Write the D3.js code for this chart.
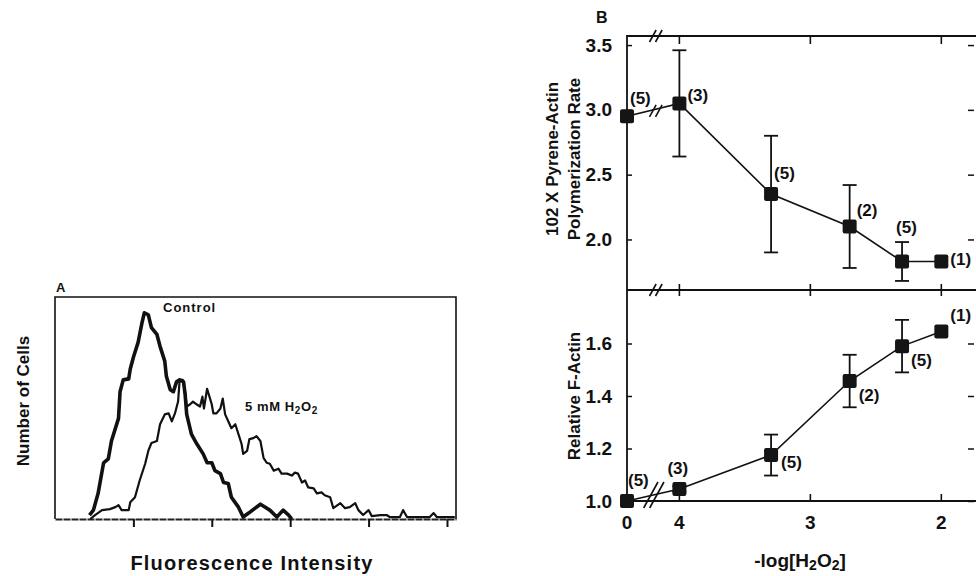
<!DOCTYPE html>
<html>
<head>
<meta charset="utf-8">
<script src="https://cdn.jsdelivr.net/npm/d3@7"></script>
<style>
  body { margin: 0; background: #fff; }
  svg { display: block; }
  text { font-family: "Liberation Sans", Arial, sans-serif; font-weight: bold; fill: #111; }
</style>
</head>
<body>
<div id="chart"></div>
<script>
// ---- Panel A: flow cytometry histograms (intensity, cell count) ----
const controlX = [0.44, 0.49, 0.55, 0.62, 0.68, 0.72, 0.81, 0.83, 0.87, 0.94, 0.96, 1.00, 1.06, 1.11, 1.14,
  1.19, 1.23, 1.30, 1.34, 1.40, 1.42, 1.47, 1.51, 1.55, 1.59, 1.64, 1.66, 1.68, 1.74, 1.81, 1.89, 1.94,
  2.00, 2.04, 2.11, 2.15, 2.21, 2.25, 2.34, 2.40, 2.47, 2.62, 2.74, 2.83, 2.91, 2.98, 3.02];
const controlCounts = [4, 9, 26, 57, 61, 79, 102, 129, 141, 142, 152, 164, 179, 199, 209,
  207, 194, 187, 175, 160, 145, 131, 129, 139, 141, 139, 126, 106, 86, 76, 66, 57,
  57, 49, 46, 37, 36, 22, 12, 2, 6, 15, 9, 2, 9, 4, 0];

const h2o2X = [0.45, 0.51, 0.60, 0.70, 0.77, 0.81, 0.85, 0.94, 0.96, 1.02, 1.08, 1.15, 1.19, 1.23, 1.30,
  1.34, 1.40, 1.45, 1.49, 1.53, 1.57, 1.59, 1.63, 1.66, 1.68, 1.72, 1.76, 1.81, 1.85, 1.88, 1.90, 1.94,
  1.97, 2.00, 2.02, 2.06, 2.11, 2.14, 2.17, 2.21, 2.25, 2.30, 2.34, 2.38, 2.40, 2.45, 2.48, 2.53, 2.57,
  2.62, 2.66, 2.70, 2.74, 2.79, 2.85, 2.89, 2.96, 3.02, 3.06, 3.10, 3.15, 3.19, 3.23, 3.30, 3.34, 3.40,
  3.44, 3.51, 3.55, 3.64, 3.70, 3.76, 3.83, 3.87, 3.93, 4.00, 4.04, 4.15, 4.23, 4.27, 4.40, 4.44, 4.49,
  4.78, 4.83, 4.87, 5.10];
const h2o2Counts = [0, 4, 9, 10, 12, 14, 9, 9, 17, 22, 39, 56, 69, 77, 79,
  96, 106, 107, 99, 107, 119, 141, 141, 129, 114, 116, 119, 116, 114, 124, 112, 132,
  124, 116, 107, 107, 112, 122, 106, 99, 92, 96, 86, 76, 66, 69, 81, 82, 84,
  79, 62, 57, 56, 49, 51, 46, 46, 44, 47, 46, 37, 39, 32, 31, 26, 27,
  24, 22, 11, 16, 11, 12, 16, 9, 4, 9, 3, 4, 4, 2, 2, 9, 2,
  2, 6, 2, 2];

const histTicks = [1, 2, 3, 4, 5];

// ---- Panel B: dose response vs -log[H2O2] ----
// control (no H2O2) sits at the broken-axis position labelled "0"
const doseLog = [4.4, 4, 3.3, 2.7, 2.3, 2];
const polyRate = [2.95, 3.05, 2.35, 2.10, 1.83, 1.83];
const polyErr = [0, 0.41, 0.45, 0.32, 0.15, 0];
const polyN = [5, 3, 5, 2, 5, 1];

const fActin = [1.0, 1.046, 1.175, 1.457, 1.590, 1.646];
const fActinErr = [0, 0.01, 0.078, 0.10, 0.10, 0];
const fActinN = [5, 3, 5, 2, 5, 1];

const doseTickVals = [4.4, 4, 3, 2];
const doseTickLabels = ['0', '4', '3', '2'];
const polyTicks = [2.0, 2.5, 3.0, 3.5];
const actinTicks = [1.0, 1.2, 1.4, 1.6];
const breakPos = 4.18;

// label offsets (dx, dy of label centre relative to its point)
const polyLabelOff = [[3, -18], [8, -8], [3, -21], [7, -17], [-6, -34], [9, -2]];
const actinLabelOff = [[1, -21], [-12, -21], [10, 7], [9, 14], [9, 14], [9, -16]];

const W = 976, H = 576;
const svg = d3.select('#chart').append('svg').attr('width', W).attr('height', H);

// ================= Panel A =================
const boxA = { left: 55, right: 456, top: 297, bottom: 519 };
const xA = d3.scaleLinear().domain([0, 5.115]).range([boxA.left, boxA.right]);
const yA = d3.scaleLinear().domain([0, 225]).range([boxA.bottom, boxA.top]);

const gA = svg.append('g');
gA.append('path')
  .attr('d', `M${boxA.left},${boxA.bottom}V${boxA.top}H${boxA.right}V${boxA.bottom}`)
  .attr('fill', 'none').attr('stroke', '#111').attr('stroke-width', 1.6);

const axisA = d3.axisBottom(xA).tickValues(histTicks).tickFormat('').tickSize(8).tickSizeOuter(0);
gA.append('g').attr('transform', `translate(0,${boxA.bottom})`).call(axisA)
  .call(g => g.select('.domain').attr('stroke', '#222').attr('stroke-width', 2.2).attr('stroke-dasharray', '7,1'))
  .call(g => g.selectAll('.tick line').attr('stroke', '#111').attr('stroke-width', 2));

const lineA = d3.line().x(d => xA(d[0])).y(d => yA(d[1]));
gA.append('path')
  .datum(d3.zip(h2o2X, h2o2Counts))
  .attr('d', lineA).attr('fill', 'none').attr('stroke', '#111')
  .attr('stroke-width', 2.2).attr('stroke-linejoin', 'round');
gA.append('path')
  .datum(d3.zip(controlX, controlCounts))
  .attr('d', lineA).attr('fill', 'none').attr('stroke', '#111')
  .attr('stroke-width', 3.6).attr('stroke-linejoin', 'round');

gA.append('text').attr('x', 56).attr('y', 292).attr('font-size', 13).text('A');
gA.append('text').attr('x', 163).attr('y', 312).attr('font-size', 13).attr('letter-spacing', 1).text('Control');
const lbl = gA.append('text').attr('x', 245).attr('y', 411).attr('font-size', 13).attr('letter-spacing', 0.6);
lbl.append('tspan').text('5 mM H');
lbl.append('tspan').attr('font-size', 10).attr('dy', 3).text('2');
lbl.append('tspan').attr('dy', -3).text('O');
lbl.append('tspan').attr('font-size', 10).attr('dy', 3).text('2');

gA.append('text').attr('transform', 'translate(29,401) rotate(-90)')
  .attr('text-anchor', 'middle').attr('font-size', 17).text('Number of Cells');
gA.append('text').attr('x', 252).attr('y', 570)
  .attr('text-anchor', 'middle').attr('font-size', 20).attr('letter-spacing', 1.2)
  .text('Fluorescence Intensity');

// ================= Panel B =================
const left = 627, right = 978;
const xB = d3.scaleLinear().domain([4.4, 1.72]).range([left, right]);
const yTop = d3.scaleLinear().domain([1.61, 3.57]).range([290, 36]);
const yBot = d3.scaleLinear().domain([1.0, 1.8]).range([501, 291]);
const gB = svg.append('g');

// frame
gB.append('path')
  .attr('d', `M${left},${yBot(1.0)}V${yTop(3.57)}H${right}`)
  .attr('fill', 'none').attr('stroke', '#111').attr('stroke-width', 1.8);
gB.append('line').attr('x1', left).attr('x2', right).attr('y1', yTop(1.61)).attr('y2', yTop(1.61))
  .attr('stroke', '#111').attr('stroke-width', 1.8);
gB.append('line').attr('x1', left).attr('x2', right).attr('y1', yBot(1.0)).attr('y2', yBot(1.0))
  .attr('stroke', '#111').attr('stroke-width', 1.8);

// y axes (inside ticks + labels)
function yAxis(scale, ticks, fmt) {
  const g = gB.append('g');
  g.append('g').attr('transform', `translate(${left},0)`)
    .call(d3.axisLeft(scale).tickValues(ticks).tickFormat(d3.format(fmt)).tickSize(-5).tickPadding(15))
    .call(a => a.select('.domain').remove())
    .call(a => a.selectAll('.tick line').attr('stroke', '#111').attr('stroke-width', 1.5))
    .call(a => a.selectAll('.tick text').attr('font-size', 19).attr('fill', '#111')
      .attr('font-family', '"Liberation Sans", Arial, sans-serif').attr('font-weight', 'bold'));
  g.append('g').attr('transform', `translate(${right - 4},0)`)
    .call(d3.axisRight(scale).tickValues(ticks).tickFormat('').tickSize(-6))
    .call(a => a.select('.domain').remove())
    .call(a => a.selectAll('.tick line').attr('stroke', '#111').attr('stroke-width', 1.5));
}
yAxis(yTop, polyTicks, '.1f');
yAxis(yBot, actinTicks, '.1f');

// x ticks on top border, divider and bottom axis
const realTicks = doseTickVals.slice(1);
gB.append('g').selectAll('line.tt').data(realTicks).join('line')
  .attr('x1', d => xB(d)).attr('x2', d => xB(d)).attr('y1', yTop(3.57)).attr('y2', yTop(3.57) + 8)
  .attr('stroke', '#111').attr('stroke-width', 1.6);
gB.append('g').selectAll('line.mt').data(realTicks).join('line')
  .attr('x1', d => xB(d)).attr('x2', d => xB(d)).attr('y1', yTop(1.61) - 6).attr('y2', yTop(1.61) + 6)
  .attr('stroke', '#111').attr('stroke-width', 1.6);
gB.append('g').selectAll('line.bt').data(realTicks).join('line')
  .attr('x1', d => xB(d)).attr('x2', d => xB(d)).attr('y1', yBot(1.0) - 7).attr('y2', yBot(1.0))
  .attr('stroke', '#111').attr('stroke-width', 1.6);
gB.append('g').selectAll('text').data(doseTickVals).join('text')
  .attr('x', d => xB(d)).attr('y', yBot(1.0) + 28).attr('text-anchor', 'middle')
  .attr('font-size', 19).text((d, i) => doseTickLabels[i]);

// series
function series(scale, vals, errs, ns, offs) {
  const pts = doseLog.map((d, i) => ({ x: xB(d), y: scale(vals[i]), e: errs[i], v: vals[i], n: ns[i], o: offs[i] }));
  gB.append('path').datum(pts)
    .attr('d', d3.line().x(d => d.x).y(d => d.y))
    .attr('fill', 'none').attr('stroke', '#111').attr('stroke-width', 1.6);
  const eb = gB.append('g').selectAll('g').data(pts.filter(p => p.e > 0)).join('g')
    .attr('stroke', '#111').attr('stroke-width', 1.8);
  eb.append('line').attr('x1', d => d.x).attr('x2', d => d.x)
    .attr('y1', d => scale(d.v + d.e)).attr('y2', d => scale(d.v - d.e));
  eb.append('line').attr('x1', d => d.x - 7).attr('x2', d => d.x + 7)
    .attr('y1', d => scale(d.v + d.e)).attr('y2', d => scale(d.v + d.e));
  eb.append('line').attr('x1', d => d.x - 7).attr('x2', d => d.x + 7)
    .attr('y1', d => scale(d.v - d.e)).attr('y2', d => scale(d.v - d.e));
  gB.append('g').selectAll('rect').data(pts).join('rect')
    .attr('x', d => d.x - 7).attr('y', d => d.y - 7).attr('width', 14).attr('height', 14)
    .attr('rx', 2).attr('fill', '#151515');
  gB.append('g').selectAll('text').data(pts).join('text')
    .attr('x', d => d.x + d.o[0]).attr('y', d => d.y + d.o[1] + 6)
    .attr('font-size', 17).text(d => `(${d.n})`);
  return pts;
}
const topPts = series(yTop, polyRate, polyErr, polyN, polyLabelOff);
const botPts = series(yBot, fActin, fActinErr, fActinN, actinLabelOff);

// axis break marks "//"
function breakMark(cx, cy, half) {
  [-3, 3].forEach(o => {
    gB.append('line')
      .attr('x1', cx + o - half * 0.55).attr('y1', cy + half).attr('x2', cx + o + half * 0.55).attr('y2', cy - half)
      .attr('stroke', '#111').attr('stroke-width', 1.6);
  });
}
const bx = xB(breakPos);
breakMark(bx, yTop(3.57), 6);
breakMark(bx, yTop(1.61), 6);
breakMark(bx, (topPts[0].y + topPts[1].y) / 2 + 1, 6);
breakMark(bx - 2, yBot(1.0) - 6, 13);

// labels
gB.append('text').attr('x', 596).attr('y', 23).attr('font-size', 16).text('B');
gB.append('text').attr('transform', `translate(558,${(yTop(3.57) + yTop(1.61)) / 2 - 4}) rotate(-90)`)
  .attr('text-anchor', 'middle').attr('font-size', 17).text('102 X Pyrene-Actin');
gB.append('text').attr('transform', `translate(580,${(yTop(3.57) + yTop(1.61)) / 2 - 4}) rotate(-90)`)
  .attr('text-anchor', 'middle').attr('font-size', 17).text('Polymerization Rate');
gB.append('text').attr('transform', `translate(580,${(yBot(1.0) + yBot(1.8)) / 2}) rotate(-90)`)
  .attr('text-anchor', 'middle').attr('font-size', 17).text('Relative F-Actin');

const xt = gB.append('text').attr('x', 800).attr('y', 567).attr('text-anchor', 'middle')
  .attr('font-size', 19).attr('font-weight', 'normal');
xt.append('tspan').text('-log[H');
xt.append('tspan').attr('font-size', 14).attr('dy', 3).text('2');
xt.append('tspan').attr('dy', -3).text('O');
xt.append('tspan').attr('font-size', 14).attr('dy', 3).text('2');
xt.append('tspan').attr('dy', -3).text(']');
</script>
</body>
</html>
